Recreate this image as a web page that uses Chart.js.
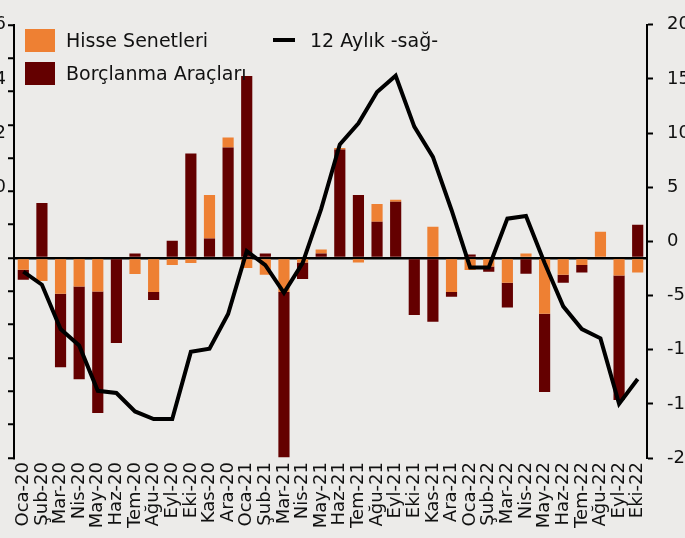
<!DOCTYPE html>
<html>
<head>
<meta charset="utf-8">
<script src="https://cdn.jsdelivr.net/npm/chart.js@4"></script>
<style>
  html, body { margin: 0; padding: 0; background: #ecebe9; overflow: hidden; }
  #wrap { position: relative; width: 685px; height: 538px; }
  .legend { position: absolute; font-family: "DejaVu Sans", sans-serif; font-size: 19px; color: #111; white-space: nowrap; line-height: 22px; }
  .box { position: absolute; width: 30px; height: 23px; }
</style>
</head>
<body>
<div id="wrap">
  <canvas id="chart" width="685" height="538"></canvas>
  <div class="box" style="left:25px;top:29px;background:#ee8033"></div>
  <div class="legend" style="left:66px;top:29px">Hisse Senetleri</div>
  <div class="box" style="left:25px;top:62px;background:#640000"></div>
  <div class="legend" style="left:66px;top:62px">Borçlanma Araçları</div>
  <div style="position:absolute;left:273px;top:38px;width:22px;height:4px;background:#000"></div>
  <div class="legend" style="left:310px;top:29px">12 Aylık -sağ-</div>
</div>
<script>
const months = ['Oca-20', 'Şub-20', 'Mar-20', 'Nis-20', 'May-20', 'Haz-20', 'Tem-20', 'Ağu-20', 'Eyl-20', 'Eki-20', 'Kas-20', 'Ara-20',
  'Oca-21', 'Şub-21', 'Mar-21', 'Nis-21', 'May-21', 'Haz-21', 'Tem-21', 'Ağu-21', 'Eyl-21', 'Eki-21', 'Kas-21', 'Ara-21',
  'Oca-22', 'Şub-22', 'Mar-22', 'Nis-22', 'May-22', 'Haz-22', 'Tem-22', 'Ağu-22', 'Eyl-22', 'Eki-22'];

const hisse = [-0.35, -0.69, -1.07, -0.85, -1.0, 0, -0.48, -1.02, -0.21, -0.15, 1.30, 0.30,
  -0.30, -0.50, -1.02, -0.13, 0.12, 0.04, -0.13, 0.53, 0.06, 0, 0.94, -1.02,
  -0.36, -0.25, -0.74, 0.14, -1.67, -0.50, -0.21, 0.79, -0.52, -0.43];

const borclanma = [-0.30, 1.65, -2.21, -2.79, -3.65, -2.55, 0.14, -0.24, 0.52, 3.14, 0.59, 3.32,
  5.46, 0.14, -4.96, -0.50, 0.14, 3.26, 1.89, 1.09, 1.69, -1.71, -1.91, -0.14,
  0.11, -0.16, -0.74, -0.47, -2.35, -0.24, -0.22, 0, -3.74, 1.0];

const aylik12 = [-2.8, -4.0, -8.1, -9.6, -13.8, -14.0, -15.7, -16.4, -16.4, -10.2, -9.9, -6.7,
  -0.9, -2.2, -4.75, -2.0, 3.0, 8.95, 10.9, 13.8, 15.3, 10.6, 7.8, 2.9,
  -2.4, -2.4, 2.1, 2.35, -2.0, -6.0, -8.1, -8.95, -15.0, -12.7];

// left axis labels are cut off by the picture edge, only last digits show
const leftEdgeLabels = ['6', '4', '2', '0'];
const leftEdgeAt = [20, 15, 10, 5];

const orange = '#ee8033';
const maroon = '#640000';

// split by sign so positives stack maroon first and negatives stack orange first
const pos = arr => arr.map(v => v > 0 ? v : null);
const neg = arr => arr.map(v => v < 0 ? v : null);

const edgeLabels = {
  id: 'edgeLabels',
  afterDraw(chart) {
    const ctx = chart.ctx;
    const y1 = chart.scales.y1;
    ctx.save();
    ctx.font = '18px "DejaVu Sans"';
    ctx.fillStyle = '#111';
    ctx.textAlign = 'right';
    ctx.textBaseline = 'middle';
    leftEdgeLabels.forEach((t, i) => {
      ctx.fillText(t, 6, y1.getPixelForValue(leftEdgeAt[i]));
    });
    ctx.restore();
  }
};

const barCommon = { stack: 's', yAxisID: 'y', order: 1, categoryPercentage: 1, barPercentage: 0.6 };

new Chart(document.getElementById('chart'), {
  type: 'bar',
  data: {
    labels: months,
    datasets: [
      { ...barCommon, label: 'Borçlanma Araçları', data: pos(borclanma), backgroundColor: maroon },
      { ...barCommon, label: 'Hisse Senetleri', data: neg(hisse), backgroundColor: orange },
      { ...barCommon, label: 'Hisse Senetleri', data: pos(hisse), backgroundColor: orange },
      { ...barCommon, label: 'Borçlanma Araçları', data: neg(borclanma), backgroundColor: maroon },
      {
        type: 'line', label: '12 Aylık -sağ-', data: aylik12, yAxisID: 'y1', order: 0,
        borderColor: '#000', borderWidth: 4, pointRadius: 0, tension: 0, fill: false
      }
    ]
  },
  options: {
    responsive: false,
    animation: false,
    layout: { padding: { top: 20, left: 0, right: 0, bottom: 0 } },
    plugins: { legend: { display: false }, tooltip: { enabled: false } },
    scales: {
      x: {
        stacked: true,
        offset: true,
        grid: { display: false, drawTicks: false },
        border: { display: false },
        ticks: {
          autoSkip: false, minRotation: 90, maxRotation: 90, padding: 4,
          color: '#111', font: { family: 'DejaVu Sans', size: 18 }
        },
        afterFit: s => { s.height = 80; }
      },
      y: {
        position: 'left',
        stacked: true,
        min: -6, max: 7,
        ticks: { stepSize: 1, callback: () => '', padding: 0 },
        grid: {
          color: c => c.tick && c.tick.value === 0 ? '#000' : 'rgba(0,0,0,0)',
          lineWidth: 2.5, tickLength: 6, tickColor: '#000', tickWidth: 2
        },
        border: { display: true, color: '#000', width: 2 },
        afterFit: s => { s.width = 14; }
      },
      y1: {
        position: 'right',
        min: -20, max: 20,
        ticks: { stepSize: 5, padding: 14, color: '#111', font: { family: 'DejaVu Sans', size: 18 } },
        grid: { drawOnChartArea: false, tickLength: 6, tickColor: '#000', tickWidth: 2 },
        border: { display: true, color: '#000', width: 2 },
        afterFit: s => { s.width = 38; }
      }
    }
  },
  plugins: [edgeLabels]
});
</script>
</body>
</html>
